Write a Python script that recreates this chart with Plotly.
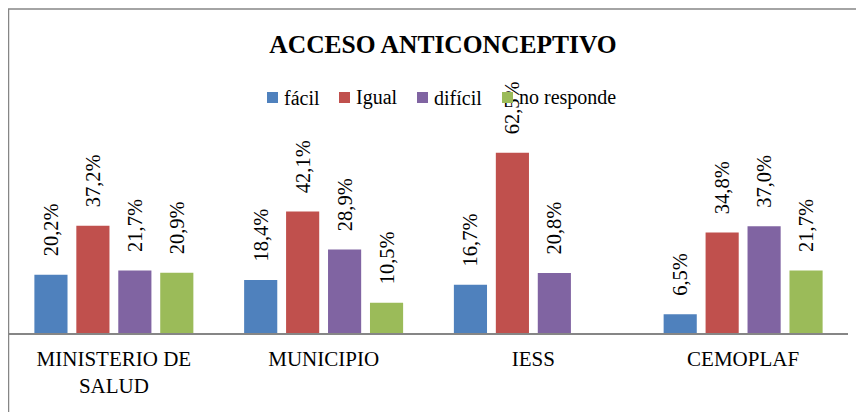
import plotly.graph_objects as go

categorias = ['MINISTERIO DE<br>SALUD', 'MUNICIPIO', 'IESS', 'CEMOPLAF']
series = ['fácil', 'Igual', 'difícil', 'no responde']
facil = [20.2, 18.4, 16.7, 6.5]
igual = [37.2, 42.1, 62.5, 34.8]
dificil = [21.7, 28.9, 20.8, 37.0]
no_responde = [20.9, 10.5, None, 21.7]
colores = ['#4F81BD', '#C0504D', '#8064A2', '#9BBB59']

valores = [facil, igual, dificil, no_responde]
fuente = 'Liberation Serif'


def etiqueta(v):
    if v is None:
        return ''
    return '\u00a0\u00a0\u00a0' + f'{v:.1f}'.replace('.', ',') + '%'


fig = go.Figure()
for nombre, vals, color in zip(series, valores, colores):
    fig.add_trace(go.Bar(
        x=categorias, y=vals, name=nombre,
        marker_color=color, marker_line_width=0,
        text=[etiqueta(v) for v in vals], textposition='outside',
        textangle=-90, constraintext='none', cliponaxis=False,
        textfont=dict(family=fuente, size=20.5, color='black'),
        showlegend=False,
    ))

# la pagina deja 8px de margen en el body, se descuenta de todo
off = 8
W, H = 864, 412
izq, der, arriba, base = 9 - off, 848 - off, 131 - off, 333 - off
alto = base - arriba
ancho = der - izq


def px_x(x):
    return (x - off - izq) / ancho


def px_y(y):
    return (base - (y - off)) / alto


fig.update_layout(
    width=W, height=H,
    margin=dict(l=izq, r=W - der, t=arriba, b=H - base),
    paper_bgcolor='white', plot_bgcolor='white',
    barmode='group', bargap=0.2, bargroupgap=0.21,
    font=dict(family=fuente, color='black'),
    title=dict(text='<b>ACCESO ANTICONCEPTIVO</b>', x=(443 - off) / W, xanchor='center',
               y=1 - (44 - off) / H, yanchor='middle',
               font=dict(family=fuente, size=25.5, color='black')),
    showlegend=False,
)

fig.update_xaxes(showline=True, linecolor='#868686', linewidth=1.5,
                 ticks='outside', ticklen=6, tickcolor='rgba(0,0,0,0)',
                 tickfont=dict(family=fuente, size=21, color='black'),
                 showgrid=False, fixedrange=True)
fig.update_yaxes(range=[0, 70], visible=False, showgrid=False, zeroline=False)

# leyenda horizontal como en Excel (cuadro pegado al texto)
leyenda_x = [267, 339, 417, 502]
leyenda_y = 97.5
for nombre, color, lx in zip(series, colores, leyenda_x):
    fig.add_shape(type='rect', xref='paper', yref='paper',
                  x0=px_x(lx), x1=px_x(lx + 11),
                  y0=px_y(leyenda_y + 5.5), y1=px_y(leyenda_y - 5.5),
                  line_width=0, fillcolor=color, layer='above')
    fig.add_annotation(text=nombre, xref='paper', yref='paper',
                       x=px_x(lx + 15), y=px_y(leyenda_y),
                       xanchor='left', yanchor='middle', showarrow=False,
                       font=dict(family=fuente, size=20, color='black'))

# marco del grafico (recortado a la derecha y abajo)
fig.add_shape(type='rect', xref='paper', yref='paper',
              x0=px_x(8.5), x1=px_x(880),
              y0=px_y(428), y1=px_y(9),
              line=dict(color='#868686', width=1.5), fillcolor='rgba(0,0,0,0)',
              layer='below')

fig.write_html('out.html')
